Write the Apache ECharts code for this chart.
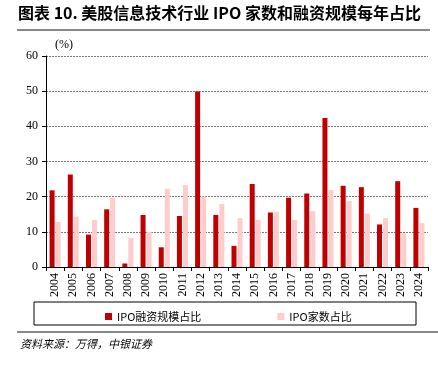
<!DOCTYPE html>
<html lang="zh">
<head>
<meta charset="UTF-8">
<title>美股信息技术行业 IPO 家数和融资规模每年占比</title>
<script src="https://cdn.jsdelivr.net/npm/echarts@6/dist/echarts.min.js"></script>
<style>
  html, body { margin: 0; padding: 0; background: #fff; }
  #main { width: 438px; height: 367px; }
</style>
</head>
<body>
<div id="main"></div>
<script type="text/javascript">
// 年份
var years = ['2004', '2005', '2006', '2007', '2008', '2009', '2010', '2011', '2012', '2013', '2014',
    '2015', '2016', '2017', '2018', '2019', '2020', '2021', '2022', '2023', '2024'];
// IPO融资规模占比 (%)
var amountShare = [21.8, 26.3, 9.2, 16.4, 1.0, 14.8, 5.6, 14.5, 49.9, 14.8, 6.0,
    23.6, 15.5, 19.7, 20.9, 42.4, 23.1, 22.7, 12.1, 24.4, 16.8];
// IPO家数占比 (%)
var countShare = [12.8, 14.3, 13.4, 19.7, 8.2, 10.0, 22.2, 23.3, 20.0, 17.9, 13.9,
    13.4, 15.7, 13.4, 15.9, 21.9, 18.8, 15.2, 13.9, 9.6, 12.5];

var serif = '"Liberation Serif", "Times New Roman", serif';
var cjk = '"Noto Sans CJK SC", sans-serif';

var myChart = echarts.init(document.getElementById('main'));

var option = {
    animation: false,
    backgroundColor: '#fff',
    grid: { left: 46, right: 10, top: 56, bottom: 100 },
    legend: {
        left: 100,
        top: 306,
        itemWidth: 7,
        itemHeight: 7,
        itemGap: 76,
        icon: 'rect',
        textStyle: { fontFamily: cjk, fontSize: 11, color: '#000' },
        data: ['IPO融资规模占比', 'IPO家数占比']
    },
    xAxis: {
        type: 'category',
        data: years,
        axisLine: { lineStyle: { color: '#000' } },
        axisTick: { show: true, length: 4, lineStyle: { color: '#000' } },
        axisLabel: {
            rotate: 90,
            interval: 0,
            margin: 6,
            fontFamily: serif,
            fontSize: 12,
            color: '#000'
        }
    },
    yAxis: {
        type: 'value',
        min: 0,
        max: 60,
        interval: 10,
        axisLine: { show: true, lineStyle: { color: '#000' } },
        axisTick: { show: true, length: 4, lineStyle: { color: '#000' } },
        axisLabel: { fontFamily: serif, fontSize: 12, color: '#000', margin: 8 },
        splitLine: { lineStyle: { color: '#777', type: [2, 1], width: 1 } }
    },
    series: [
        {
            name: 'IPO融资规模占比',
            type: 'bar',
            data: amountShare,
            barWidth: 5,
            barGap: '20%',
            itemStyle: { color: '#C00000' }
        },
        {
            name: 'IPO家数占比',
            type: 'bar',
            data: countShare,
            barWidth: 5,
            itemStyle: { color: '#FFCCCC' }
        }
    ],
    graphic: [
        {
            type: 'text', left: 18, top: 5,
            style: {
                text: '图表 10. 美股信息技术行业 IPO 家数和融资规模每年占比',
                font: 'bold 16px ' + cjk, fill: '#000'
            }
        },
        {
            type: 'line', shape: { x1: 17, y1: 30, x2: 430, y2: 30 },
            style: { stroke: '#888', lineWidth: 2 }
        },
        {
            type: 'text', left: 55, top: 39,
            style: { text: '(%)', font: '12px ' + serif, fill: '#000' }
        },
        {
            type: 'rect', shape: { x: 34, y: 302, width: 382, height: 23 },
            style: { fill: 'none', stroke: '#000', lineWidth: 1 }
        },
        {
            type: 'line', shape: { x1: 17, y1: 332, x2: 438, y2: 332 },
            style: { stroke: '#888', lineWidth: 2 }
        },
        {
            type: 'text', left: 20, top: 338,
            style: { text: '资料来源：万得，中银证券', font: 'italic 11px ' + cjk, fill: '#000' }
        }
    ]
};

myChart.setOption(option);
</script>
</body>
</html>
